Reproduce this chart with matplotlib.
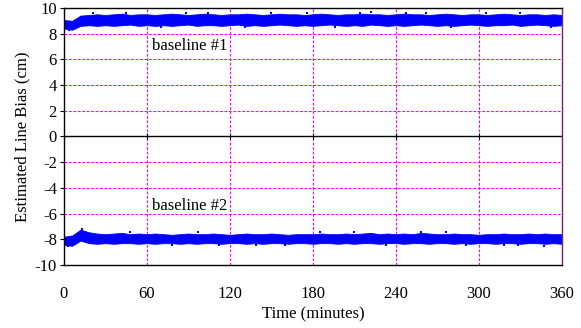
import matplotlib.pyplot as plt

plt.rcParams['font.family'] = ['Liberation Serif', 'DejaVu Serif']
plt.rcParams['axes.unicode_minus'] = False

# --- data (band envelopes of the dense scatter) ---
t = list(range(0, 361, 6))

b1_upper = [9.05, 9.0, 9.4, 9.45, 9.5, 9.45, 9.5, 9.55, 9.45, 9.5,
            9.5, 9.45, 9.5, 9.55, 9.5, 9.45, 9.5, 9.55, 9.5, 9.45,
            9.5, 9.5, 9.55, 9.5, 9.45, 9.5, 9.55, 9.5, 9.5, 9.45,
            9.5, 9.55, 9.5, 9.45, 9.5, 9.5, 9.55, 9.5, 9.5, 9.45,
            9.5, 9.55, 9.5, 9.5, 9.45, 9.5, 9.55, 9.5, 9.45, 9.5,
            9.5, 9.45, 9.5, 9.55, 9.5, 9.45, 9.5, 9.5, 9.45, 9.5, 9.45]
b1_lower = [8.4, 8.3, 8.6, 8.65, 8.6, 8.65, 8.6, 8.65, 8.7, 8.6,
            8.65, 8.6, 8.65, 8.6, 8.65, 8.7, 8.6, 8.65, 8.65, 8.6,
            8.65, 8.7, 8.6, 8.65, 8.6, 8.65, 8.7, 8.65, 8.6, 8.65,
            8.6, 8.65, 8.7, 8.65, 8.6, 8.65, 8.6, 8.7, 8.65, 8.6,
            8.65, 8.6, 8.65, 8.7, 8.65, 8.6, 8.65, 8.6, 8.65, 8.7,
            8.65, 8.6, 8.65, 8.65, 8.7, 8.6, 8.65, 8.7, 8.65, 8.6, 8.65]

b2_upper = [-7.8, -7.7, -7.25, -7.45, -7.55, -7.6, -7.55, -7.5, -7.6, -7.55,
            -7.6, -7.55, -7.6, -7.65, -7.6, -7.55, -7.6, -7.6, -7.55, -7.6,
            -7.65, -7.6, -7.55, -7.6, -7.6, -7.55, -7.6, -7.65, -7.6, -7.6,
            -7.6, -7.55, -7.6, -7.6, -7.55, -7.6, -7.55, -7.5, -7.6, -7.55,
            -7.6, -7.55, -7.6, -7.5, -7.55, -7.6, -7.6, -7.55, -7.6, -7.6,
            -7.65, -7.6, -7.6, -7.55, -7.6, -7.6, -7.55, -7.6, -7.55, -7.6, -7.6]
b2_lower = [-8.45, -8.5, -8.1, -8.3, -8.35, -8.3, -8.35, -8.3, -8.3, -8.35,
            -8.3, -8.35, -8.3, -8.3, -8.35, -8.3, -8.35, -8.3, -8.3, -8.35,
            -8.3, -8.3, -8.35, -8.3, -8.35, -8.3, -8.3, -8.35, -8.3, -8.3,
            -8.35, -8.3, -8.3, -8.35, -8.3, -8.35, -8.3, -8.3, -8.35, -8.3,
            -8.3, -8.35, -8.3, -8.3, -8.35, -8.3, -8.3, -8.35, -8.3, -8.35,
            -8.3, -8.3, -8.35, -8.3, -8.3, -8.35, -8.3, -8.3, -8.35, -8.3, -8.35]

# scattered outliers just outside the bands
out_t = [4, 21, 45, 70, 88, 104, 131, 150, 176, 196, 214, 222, 247, 262, 280,
         305, 330, 352, 3, 13, 48, 78, 97, 112, 139, 160, 185, 210, 233, 258,
         276, 291, 318, 328, 347]
out_y = [8.25, 9.6, 9.62, 8.55, 9.58, 9.62, 8.55, 9.6, 9.58, 8.5, 9.6, 9.65,
         9.58, 9.62, 8.55, 9.58, 9.62, 8.5,
         -8.55, -7.2, -7.45, -8.45, -7.47, -8.45, -8.42, -8.45, -7.47, -7.47,
         -8.45, -7.42, -7.45, -8.45, -8.42, -8.48, -8.55]

xticks = [0, 60, 120, 180, 240, 300, 360]
yticks = list(range(-10, 11, 2))

fig = plt.figure(figsize=(5.81, 3.28), dpi=100)
ax = fig.add_axes([0.110, 0.192, 0.857, 0.784])

blue = '#0000ff'
ax.fill_between(t, b1_lower, b1_upper, color=blue, lw=0.6, edgecolor=blue)
ax.fill_between(t, b2_lower, b2_upper, color=blue, lw=0.6, edgecolor=blue)
ax.plot(out_t, out_y, 's', color=blue, ms=2, mew=0)
ax.plot([0], [0], 's', color=blue, ms=2, mew=0)

ax.set_xlim(0, 360)
ax.set_ylim(-10, 10)
ax.set_xticks(xticks)
ax.set_yticks(yticks)

# magenta dashed grid
for y in yticks:
    if y not in (-10, 0, 10):
        ax.axhline(y, color='#ff00ff', lw=0.8, ls=(0, (2.5, 1.5)), zorder=0)
for x in xticks[1:-1]:
    ax.axvline(x, color='#ff00ff', lw=0.8, ls=(0, (2.5, 1.5)), zorder=0)

# axis line through zero with small ticks
ax.axhline(0, color='black', lw=1.0)
ax.plot(xticks[1:], [0] * 6, '|', color='black', ms=5, mew=0.8)

for s in ('left', 'top', 'bottom'):
    ax.spines[s].set_color('black')
    ax.spines[s].set_linewidth(1.0)
ax.spines['right'].set_color('#6e2a66')
ax.spines['right'].set_linewidth(1.0)

ax.tick_params(axis='y', direction='out', length=3, width=0.8, labelsize=12, pad=2)
ax.tick_params(axis='x', length=0, labelsize=12, pad=15)

ax.text(64, 7.0, 'baseline #1', fontsize=12, va='center')
ax.text(64, -5.4, 'baseline #2', fontsize=12, va='center')

ax.set_xlabel('Time (minutes)', fontsize=12, labelpad=3)
ax.set_ylabel('Estimated Line Bias (cm)', fontsize=12, labelpad=3)

fig.savefig('out.png', dpi=100)
